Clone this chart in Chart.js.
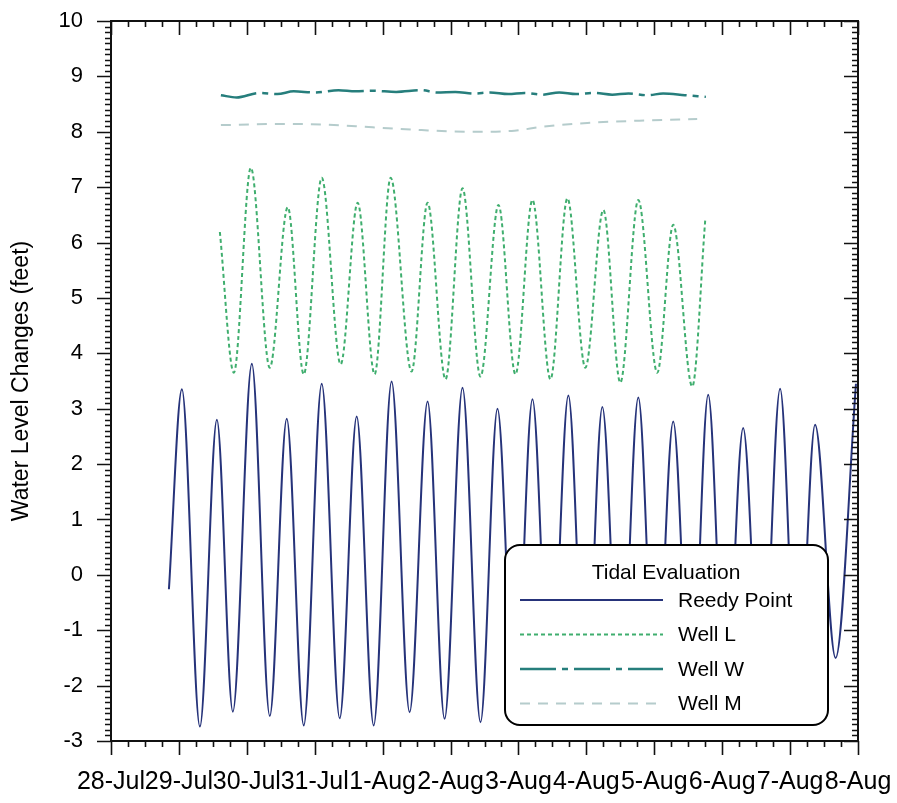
<!DOCTYPE html>
<html>
<head>
<meta charset="utf-8">
<title>Tidal Evaluation</title>
<script src="https://cdn.jsdelivr.net/npm/chart.js@4.4.1/dist/chart.umd.min.js"></script>
<style>
  html, body { margin: 0; padding: 0; background: #fff; }
  canvas { display: block; }
</style>
</head>
<body>
<canvas id="tideChart" width="897" height="803"></canvas>
<script>
// x axis runs in days from 28-Jul 00:00
var dayLabels = ['28-Jul', '29-Jul', '30-Jul', '31-Jul', '1-Aug', '2-Aug',
                 '3-Aug', '4-Aug', '5-Aug', '6-Aug', '7-Aug', '8-Aug'];

// Reedy Point tide gauge, highs and lows (feet)
var reedyDays = [0.853, 1.044, 1.309, 1.559, 1.794, 2.074, 2.338, 2.588, 2.838, 3.103,
                 3.368, 3.618, 3.868, 4.132, 4.397, 4.662, 4.912, 5.176, 5.441, 5.691,
                 5.95, 6.206, 6.47, 6.735, 6.99, 7.235, 7.50, 7.765, 8.02, 8.279,
                 8.54, 8.794, 9.05, 9.309, 9.58, 9.853, 10.11, 10.368, 10.67, 10.97];
var reedyLevels = [-0.26, 3.35, -2.74, 2.80, -2.47, 3.81, -2.55, 2.82, -2.72, 3.45,
                   -2.59, 2.86, -2.72, 3.49, -2.48, 3.13, -2.60, 3.38, -2.66, 3.00,
                   -2.55, 3.17, -2.60, 3.24, -2.50, 3.03, -2.60, 3.20, -2.45, 2.77,
                   -2.60, 3.25, -2.40, 2.65, -2.65, 3.36, -2.40, 2.71, -1.50, 3.45];

// Well L
var wellLDays = [1.603, 1.809, 2.059, 2.338, 2.603, 2.838, 3.103, 3.382, 3.632, 3.882,
                 4.118, 4.426, 4.662, 4.926, 5.176, 5.441, 5.706, 5.956, 6.206, 6.471,
                 6.721, 6.985, 7.250, 7.500, 7.765, 8.044, 8.279, 8.559, 8.750];
var wellLLevels = [6.19, 3.65, 7.35, 3.74, 6.64, 3.62, 7.17, 3.80, 6.72, 3.62,
                   7.17, 3.67, 6.72, 3.53, 6.98, 3.58, 6.68, 3.62, 6.77, 3.53,
                   6.80, 3.74, 6.59, 3.47, 6.77, 3.65, 6.32, 3.40, 6.40];

// Well W
var wellWDays = [1.618, 1.85, 2.18, 2.45, 2.69, 3.00, 3.35, 3.60, 3.85, 4.20,
                 4.57, 4.80, 5.07, 5.35, 5.58, 5.85, 6.09, 6.35, 6.60, 6.85,
                 7.12, 7.38, 7.62, 7.90, 8.13, 8.45, 8.76];
var wellWLevels = [8.66, 8.62, 8.70, 8.68, 8.73, 8.71, 8.75, 8.73, 8.74, 8.72,
                   8.75, 8.71, 8.72, 8.69, 8.71, 8.68, 8.70, 8.67, 8.71, 8.68,
                   8.70, 8.67, 8.69, 8.66, 8.69, 8.66, 8.63];

// Well M
var wellMDays = [1.618, 2.426, 3.147, 3.853, 4.574, 5.338, 5.941, 6.353, 7.015, 7.779, 8.632];
var wellMLevels = [8.12, 8.14, 8.13, 8.08, 8.03, 8.00, 8.02, 8.09, 8.16, 8.20, 8.23];

var yTicks = { min: -3, max: 10 };

function toPoints(xs, ys) {
    return xs.map(function(x, i) { return { x: x, y: ys[i] }; });
}

var FONT = '"Liberation Sans", Arial, sans-serif';

// boxed legend in the lower right, drawn over the lines
var boxLegend = {
    id: 'boxLegend',
    afterDatasetsDraw: function(chart) {
        var ctx = chart.ctx;
        var a = chart.chartArea;
        var left = a.right - 353, top = a.bottom - 196;
        var w = 323, h = 180;
        ctx.save();
        ctx.beginPath();
        ctx.roundRect(left, top, w, h, 15);
        ctx.fillStyle = '#fff';
        ctx.fill();
        ctx.lineWidth = 2;
        ctx.strokeStyle = '#000';
        ctx.stroke();

        ctx.fillStyle = '#000';
        ctx.font = '21px ' + FONT;
        ctx.textBaseline = 'middle';
        ctx.textAlign = 'center';
        ctx.fillText('Tidal Evaluation', left + 161, top + 28);

        ctx.textAlign = 'left';
        chart.data.datasets.forEach(function(ds, i) {
            var rowY = top + 55 + i * 34.5;
            ctx.beginPath();
            ctx.setLineDash(ds.borderDash || []);
            ctx.lineWidth = ds.borderWidth;
            ctx.strokeStyle = ds.borderColor;
            ctx.moveTo(left + 15, rowY);
            ctx.lineTo(left + 158, rowY);
            ctx.stroke();
            ctx.setLineDash([]);
            ctx.fillText(ds.label, left + 173, rowY + 1);
        });
        ctx.restore();
    },
    afterDraw: function(chart) {
        // frame with minor/major tick marks on all four sides
        var ctx = chart.ctx;
        var a = chart.chartArea;
        var xs = chart.scales.x, ys = chart.scales.y;
        ctx.save();
        ctx.strokeStyle = '#111';
        ctx.lineWidth = 1.6;
        ctx.beginPath();
        for (var i = 0; i <= 44; i++) {
            var px = Math.round(xs.getPixelForValue(i / 4)) + 0.5;
            var len = (i % 4 === 0) ? 14 : 6;
            ctx.moveTo(px, a.bottom);
            ctx.lineTo(px, a.bottom + len);
            ctx.moveTo(px, a.top);
            ctx.lineTo(px, a.top + len);
        }
        for (var j = 0; j <= 130; j++) {
            var py = Math.round(ys.getPixelForValue(yTicks.min + j / 10)) + 0.5;
            var ln = (j % 10 === 0) ? 14 : 6;
            ctx.moveTo(a.left - ln, py);
            ctx.lineTo(a.left, py);
            ctx.moveTo(a.right, py);
            ctx.lineTo(a.right - ln, py);
        }
        ctx.stroke();
        ctx.lineWidth = 2;
        ctx.strokeRect(a.left, a.top, a.right - a.left, a.bottom - a.top);
        ctx.restore();
    }
};

var ctx = document.getElementById('tideChart').getContext('2d');
new Chart(ctx, {
    type: 'line',
    data: {
        datasets: [{
            label: 'Reedy Point',
            data: toPoints(reedyDays, reedyLevels),
            borderColor: '#26337a',
            borderWidth: 2,
            cubicInterpolationMode: 'monotone'
        }, {
            label: 'Well L',
            data: toPoints(wellLDays, wellLLevels),
            borderColor: '#3fae6e',
            borderWidth: 2,
            borderDash: [4, 3],
            cubicInterpolationMode: 'monotone'
        }, {
            label: 'Well W',
            data: toPoints(wellWDays, wellWLevels),
            borderColor: '#267e7c',
            borderWidth: 2.5,
            borderDash: [36, 6, 6, 6],
            cubicInterpolationMode: 'monotone'
        }, {
            label: 'Well M',
            data: toPoints(wellMDays, wellMLevels),
            borderColor: '#b5cccc',
            borderWidth: 2,
            borderDash: [10, 8],
            cubicInterpolationMode: 'monotone'
        }]
    },
    options: {
        responsive: false,
        animation: false,
        layout: { padding: { left: 8, top: 21, right: 39, bottom: 0 } },
        elements: { point: { radius: 0 } },
        plugins: {
            legend: { display: false },
            tooltip: { enabled: false }
        },
        scales: {
            x: {
                type: 'linear',
                min: 0,
                max: 11,
                grid: { display: false, drawTicks: false },
                border: { display: false },
                afterFit: function(scale) {
                    scale.height = 62;
                    scale.paddingLeft = 0;
                    scale.paddingRight = 0;
                },
                ticks: {
                    stepSize: 1,
                    autoSkip: false,
                    maxRotation: 0,
                    minRotation: 0,
                    padding: 26,
                    color: '#000',
                    font: { family: FONT, size: 25 },
                    callback: function(value) { return dayLabels[value]; }
                }
            },
            y: {
                min: yTicks.min,
                max: yTicks.max,
                grid: { display: false, drawTicks: false },
                border: { display: false },
                afterFit: function(scale) {
                    scale.width = 103;
                    scale.paddingTop = 0;
                    scale.paddingBottom = 0;
                },
                title: {
                    display: true,
                    text: 'Water Level Changes (feet)',
                    color: '#000',
                    padding: 0,
                    font: { family: FONT, size: 23 }
                },
                ticks: {
                    stepSize: 1,
                    padding: 28,
                    color: '#000',
                    font: { family: FONT, size: 22 }
                }
            }
        }
    },
    plugins: [boxLegend]
});
</script>
</body>
</html>
